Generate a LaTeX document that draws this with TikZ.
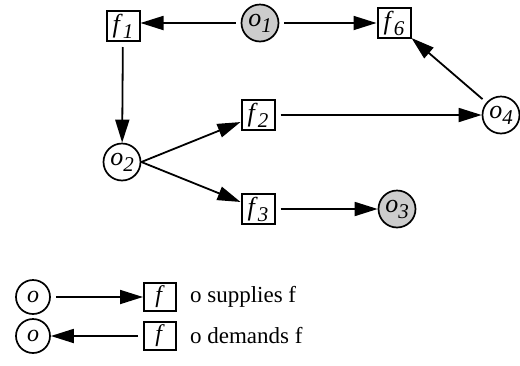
\documentclass[tikz,border=0pt]{standalone}
\usepackage{fontspec}
\setmainfont{Liberation Serif}
\usetikzlibrary{arrows.meta}
\newcommand\lab[2]{\textit{#1}\raisebox{-0.5ex}{\fontsize{10.5}{11}\selectfont\textit{#2}}}
\begin{document}
\begin{tikzpicture}[x=0.5pt,y=-0.5pt,
  fbox/.style={draw,line width=1pt,minimum width=16.5pt,minimum height=15pt,inner sep=1pt,font=\fontsize{13}{15}\selectfont},
  obox/.style={draw,circle,line width=0.85pt,minimum size=18.5pt,inner sep=0pt,font=\fontsize{13}{15}\selectfont},
  gobox/.style={obox,fill=black!20},
  arr/.style={line width=0.9pt,-{Triangle[length=11.5pt,width=7pt]},shorten <=2.5pt},
  legtext/.style={anchor=west,font=\fontsize{11.5}{13}\selectfont}]
\useasboundingbox (0,0) rectangle (520,365);
\node[fbox] (f1) at (123,26) {\lab{f}{1}};
\node[gobox] (o1) at (260,23) {\lab{o}{1}};
\node[fbox] (f6) at (394,23) {\lab{f}{6}};
\node[obox] (o4) at (501,115) {\lab{o}{4}};
\node[obox] (o2) at (122,162) {\lab{o}{2}};
\node[fbox] (f2) at (258,115) {\lab{f}{2}};
\node[fbox] (f3) at (258,209) {\lab{f}{3}};
\node[gobox] (o3) at (397,209) {\lab{o}{3}};
\draw[arr] (o1.west) -- (f1.east |- o1.west);
\draw[arr] (o1) -- (f6);
\draw[arr] (f1) -- (o2);
\draw[arr,shorten <=0pt] (o2.east) -- (f2);
\draw[arr,shorten <=0pt] (o2.east) -- (f3);
\draw[arr] (f2) -- (o4);
\draw[arr] (o4) -- (f6);
\draw[arr] (f3) -- (o3);
% legend
\node[obox,minimum size=17pt,font=\fontsize{12}{14}\selectfont] (lo1) at (33,297) {\textit{o}};
\node[fbox,minimum width=16pt,minimum height=14pt,font=\fontsize{12}{14}\selectfont] (lf1) at (160,297) {\textit{f}};
\node[legtext] (lt1) at (183,297) {o supplies f};
\node[obox,minimum size=17pt,font=\fontsize{12}{14}\selectfont] (lo2) at (33,336) {\textit{o}};
\node[fbox,minimum width=16pt,minimum height=14pt,font=\fontsize{12}{14}\selectfont] (lf2) at (160,336) {\textit{f}};
\node[legtext] (lt2) at (183,336) {o demands f};
\draw[arr] (lo1) -- (lf1);
\draw[arr] (lf2) -- (lo2);
\end{tikzpicture}
\end{document}
